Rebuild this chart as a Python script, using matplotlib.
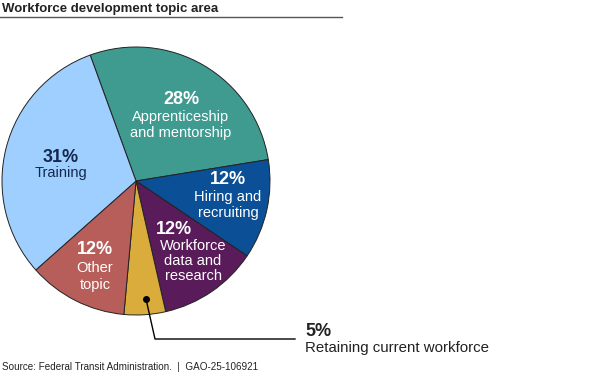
import matplotlib
matplotlib.use("Agg")
import matplotlib.pyplot as plt

plt.rcParams['font.family'] = ['Liberation Sans', 'DejaVu Sans']

# slices, clockwise from the top
topics = ['Apprenticeship\nand mentorship', 'Hiring and\nrecruiting',
          'Workforce\ndata and\nresearch', 'Retaining current workforce',
          'Other\ntopic', 'Training']
shares = [28, 12, 12, 5, 12, 31]
colors = ['#3f9a90', '#0b4f96', '#5a1b5a', '#d9ac3c', '#b85e5a', '#9fcfff']

fig = plt.figure(figsize=(6, 3.78), dpi=100)
ax = fig.add_axes([0, 0, 1, 1])


def Y(y):
    # image pixel row -> data y
    return 378 - y


ax.pie(shares, colors=colors, startangle=110, counterclock=False,
       center=(136, Y(181)), radius=134,
       wedgeprops=dict(edgecolor='#222222', linewidth=0.7))
ax.set_xlim(0, 600)
ax.set_ylim(0, 378)
ax.set_aspect('equal')
ax.axis('off')


# labels inside the slices: pct position, then first text line and pitch
def lab(i, x, y, ty, pitch=16, col='white', px=None):
    ax.text(px if px else x, Y(y), '%d%%' % shares[i], ha='center',
            va='center', fontsize=13, fontweight='bold', color=col)
    for k, line in enumerate(topics[i].split('\n')):
        ax.text(x, Y(ty + k * pitch), line, ha='center', va='center',
                fontsize=10.5, color=col)


lab(0, 181, 100, 117)
lab(1, 228, 180, 197)
lab(2, 193, 230, 246, pitch=15, px=174)
lab(4, 95, 250, 268, pitch=17)
lab(5, 61, 157, 173, col='#14284f')

# callout for the small slice
ax.plot([146], [Y(299)], 'o', color='black', markersize=4)
ax.plot([146, 155, 295], [Y(299), Y(339), Y(339)], color='black', lw=1)
ax.text(305, Y(332), '%d%%' % shares[3], ha='left', va='center', fontsize=13,
        fontweight='bold', color='#222222')
ax.text(305, Y(348), topics[3], ha='left', va='center', fontsize=10.8,
        color='#222222')

# title and source
ax.text(2, Y(9), 'Workforce development topic area', ha='left', va='center',
        fontsize=9.5, fontweight='bold', color='#222222')
ax.plot([0, 342], [Y(17), Y(17)], color='#555555', lw=1)
ax.text(2, Y(367), 'Source: Federal Transit Administration.  |  GAO-25-106921',
        ha='left', va='center', fontsize=7.1, color='#222222')

fig.savefig('out.png', dpi=100)
